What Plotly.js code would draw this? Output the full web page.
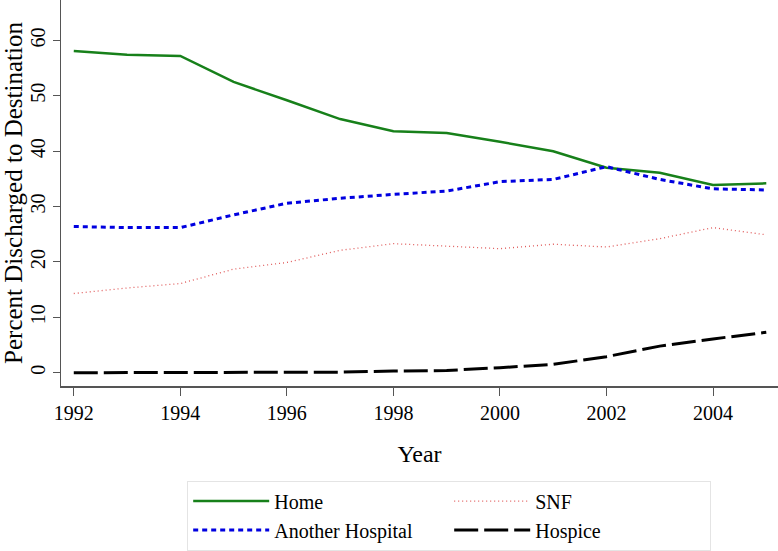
<!DOCTYPE html>
<html>
<head>
<meta charset="utf-8">
<script src="https://cdn.plot.ly/plotly-3.0.1.min.js"></script>
<style>html,body{margin:0;padding:0;background:#fff}</style>
</head>
<body>
<div id="chart" style="width:778px;height:551px"></div>
<script>
var years = [1992, 1993, 1994, 1995, 1996, 1997, 1998, 1999, 2000, 2001, 2002, 2003, 2004, 2005];
var home = [58.1, 57.4, 57.2, 52.5, 49.2, 45.8, 43.6, 43.3, 41.7, 40.0, 37.0, 36.1, 33.9, 34.2];
var anotherHospital = [26.4, 26.2, 26.2, 28.5, 30.6, 31.5, 32.2, 32.8, 34.5, 34.9, 37.2, 34.9, 33.2, 33.0];
var snf = [14.3, 15.3, 16.1, 18.7, 19.9, 22.1, 23.3, 22.8, 22.4, 23.2, 22.7, 24.2, 26.2, 24.9];
var hospice = [0, 0, 0, 0, 0, 0.1, 0.3, 0.4, 0.9, 1.5, 2.9, 4.8, 6.1, 7.3];

var serif = "'Liberation Serif', 'Times New Roman', serif";

var data = [
  {x: years, y: home, name: 'Home', type: 'scatter', mode: 'lines',
   line: {color: '#17801a', width: 2.5}},
  {x: years, y: snf, name: 'SNF', type: 'scatter', mode: 'lines',
   line: {color: '#e05a5a', width: 1.3, dash: '1px,3px'}},
  {x: years, y: anotherHospital, name: 'Another Hospital', type: 'scatter', mode: 'lines',
   line: {color: '#0000e0', width: 3, dash: '5px,4px'}},
  {x: years, y: hospice, name: 'Hospice', type: 'scatter', mode: 'lines',
   line: {color: '#000', width: 3, dash: '24px,6px'}}
];

var layout = {
  width: 778, height: 551,
  margin: {l: 61, r: 0, t: 0, b: 165},
  paper_bgcolor: '#fff', plot_bgcolor: '#fff',
  font: {family: serif, color: '#000', size: 20},
  showlegend: true,
  legend: {
    orientation: 'h', x: 0.176, y: -0.245, xanchor: 'left', yanchor: 'top',
    entrywidth: 170, entrywidthmode: 'pixels', itemwidth: 76,
    bordercolor: '#e4e4e4', borderwidth: 1,
    font: {family: serif, size: 20, color: '#000'},
    traceorder: 'normal'
  },
  xaxis: {
    range: [1991.76, 2005.22], tickvals: [1992, 1994, 1996, 1998, 2000, 2002, 2004],
    showgrid: false, zeroline: false, showline: true, linecolor: '#555', linewidth: 1.5,
    ticks: 'outside', ticklen: 8, tickcolor: '#555', tickwidth: 1,
    tickfont: {family: serif, size: 20, color: '#000'},
    title: {text: 'Year', font: {family: serif, size: 24, color: '#000'}, standoff: 22}
  },
  yaxis: {
    range: [-2.4, 67.3], tickvals: [0, 10, 20, 30, 40, 50, 60],
    showgrid: false, zeroline: false, showline: true, linecolor: '#555', linewidth: 1.5,
    ticks: 'outside', ticklen: 7, tickcolor: '#555', tickwidth: 1,
    tickangle: -90, tickfont: {family: serif, size: 20, color: '#000'},
    title: {text: 'Percent Discharged to Destination', font: {family: serif, size: 25, color: '#000'}, standoff: 8}
  }
};

Plotly.newPlot('chart', data, layout, {displayModeBar: false, staticPlot: true});
</script>
</body>
</html>
